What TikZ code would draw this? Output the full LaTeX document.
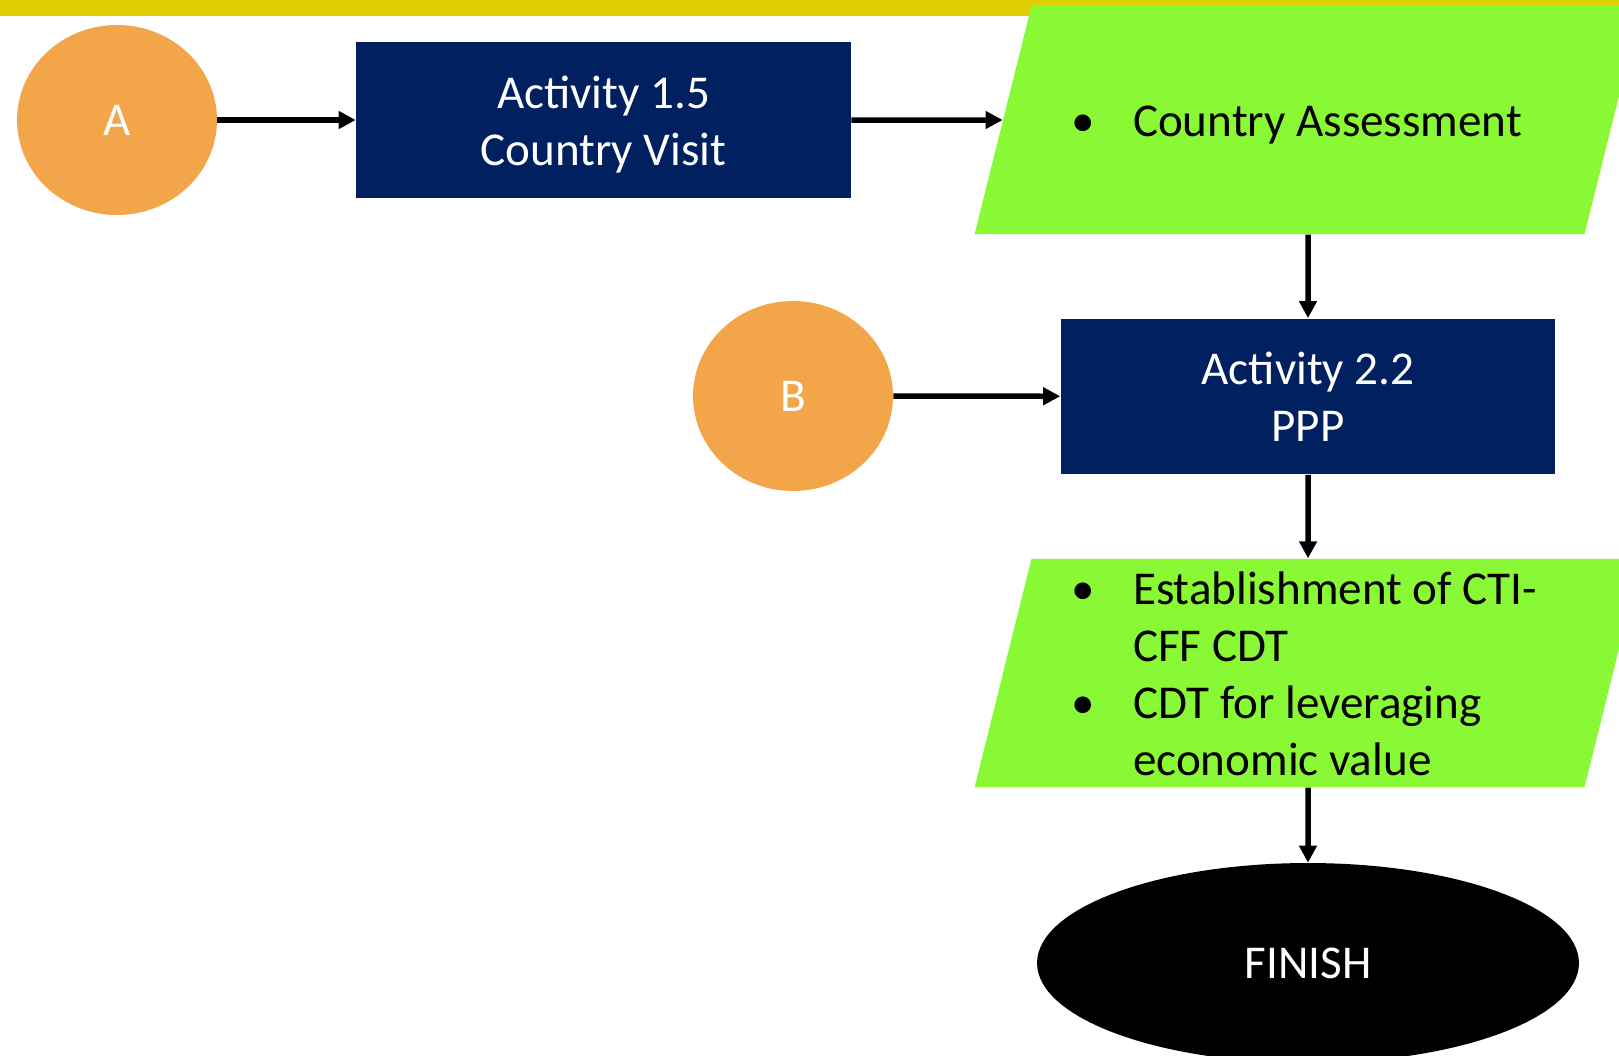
\documentclass[tikz,border=0pt]{standalone}
\usepackage{fontspec}
\setmainfont{Carlito}
\usepackage{tikz}
\usetikzlibrary{arrows,arrows.meta,positioning,shapes,shapes.geometric,calc}
\definecolor{barYellow}{HTML}{E0CF05}
\definecolor{stepOrange}{HTML}{F3A54A}
\definecolor{actNavy}{HTML}{002060}
\definecolor{outGreen}{HTML}{8AF935}
\tikzset{every node/.append style={font=\fontsize{26.8}{32.4}\selectfont}}
\tikzset{
  startnode/.style={ellipse, fill=stepOrange, text=white, minimum width=4cm, minimum height=3.8cm, inner sep=0},
  actbox/.style={rectangle, fill=actNavy, text=white, minimum width=9.9cm, minimum height=3.12cm, inner sep=0},
  outbox/.style={trapezium, trapezium left angle=76, trapezium right angle=104, trapezium stretches body=true, fill=outGreen, minimum width=13.34cm, minimum height=4.56cm, inner sep=0},
  endnode/.style={ellipse, fill=black, text=white, minimum width=10.84cm, minimum height=4cm, inner sep=0},
  flow/.style={-{Triangle[length=0.34cm,width=0.34cm]}, line width=0.11cm}
}
\newcommand{\actlines}[2]{\raisebox{-0.11cm}[\height][\depth]{\begin{tabular}{@{}c@{}}#1\\#2\end{tabular}}}
\newcommand{\bulletlist}[1]{\parbox[c][4.57cm][c]{9.32cm}{\raisebox{-0.11cm}[\height][\depth]{\begin{tabular}{@{}p{1.16cm}@{}l@{}}#1\end{tabular}}}}
\newcommand{\bul}{\hspace{-0.08cm}\textbullet}

\begin{document}
\begin{tikzpicture}[x=0.02cm,y=-0.02cm]
    \useasboundingbox (0,0) rectangle (1619,1055);
    \clip (0,0) rectangle (1619,1055);
    \fill[barYellow] (0,0) rectangle (1619,16);

    \node[startnode] (A) at (117,120) {A};
    \node[actbox] (act15) at (603.5,120) {\actlines{Activity 1.5}{Country Visit}};
    \node[outbox] (assess) at (1308,120) {\bulletlist{\bul & Country Assessment\\}};
    \node[startnode] (B) at (793,396) {B};
    \node[actbox] (act22) at (1308,396.5) {\actlines{Activity 2.2}{PPP}};
    \node[outbox] (cdt) at (1308,673) {\bulletlist{\bul & Establishment of CTI-\\ & CFF CDT\\ \bul & CDT for leveraging\\ & economic value\\}};
    \node[endnode] (finish) at (1308,963) {FINISH};

    \draw[flow] (A) -- (act15);
    \draw[flow] (act15) -- (assess);
    \draw[flow] (assess) -- (act22);
    \draw[flow] (B) -- (act22);
    \draw[flow] (act22) -- (cdt);
    \draw[flow] (cdt) -- (finish);
\end{tikzpicture}
\end{document}
